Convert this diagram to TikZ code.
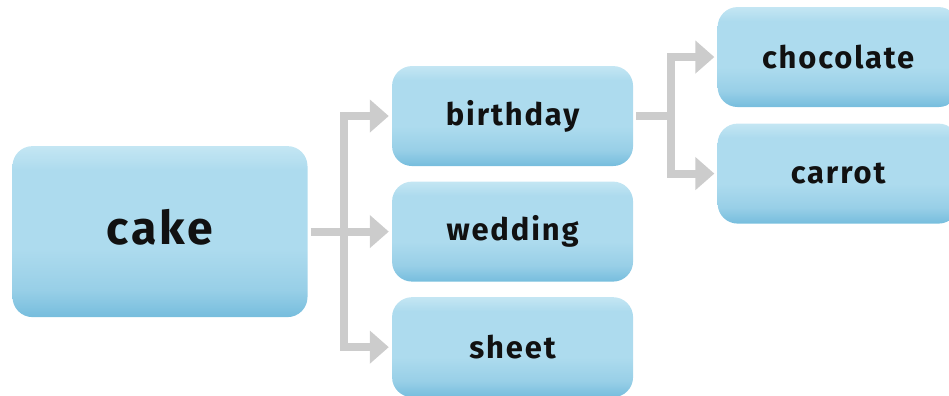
\documentclass[tikz,border=0pt]{standalone}
\usepackage{fontspec}
\setmainfont{Fira Sans}[LetterSpace=6]
\usetikzlibrary{positioning,arrows.meta}

\definecolor{boxtop}{HTML}{C4E6F3}
\definecolor{boxmid}{HTML}{ADDBEE}
\definecolor{boxlow}{HTML}{98CFE7}
\definecolor{boxbot}{HTML}{76BDDD}
\definecolor{linkgray}{HTML}{CCCCCC}
\definecolor{labtext}{HTML}{111111}
\pgfdeclareverticalshading{boxshade}{100bp}{color(0bp)=(boxbot); color(25bp)=(boxbot); color(33bp)=(boxlow); color(45bp)=(boxmid); color(68bp)=(boxmid); color(75bp)=(boxtop); color(100bp)=(boxtop)}

\begin{document}
\begin{tikzpicture}[box/.style={rounded corners=0.5cm, shading=boxshade, minimum width=6.025cm, minimum height=2.5cm, inner sep=0, text=labtext, font=\bfseries\fontsize{22}{25}\selectfont},
link/.style={draw=linkgray, line width=0.2cm, -{Triangle[length=0.475cm,width=0.8cm]}, shorten <=0.075cm, shorten >=0.075cm}]
	\useasboundingbox (0,0) rectangle (23.725,-9.9);
	\node[box, minimum width=7.375cm, minimum height=4.275cm, text depth=0.25cm, font=\bfseries\fontsize{33}{36}\selectfont] at (4,-5.79) (cake) {cake};
	\node[box, right=2.1cm of cake] (wedding) {wedding};
	\node[box, above=0.375cm of wedding] (birthday) {birthday};
	\node[box, below=0.375cm of wedding] (sheet) {sheet};
	\node[box, right=2.1cm of birthday, yshift=1.475cm] (chocolate) {chocolate};
	\node[box, below=0.4cm of chocolate] (carrot) {carrot};
	\coordinate (j1) at ([xshift=0.9cm]cake.east);
	\coordinate (j2) at ([xshift=0.95cm]birthday.east);
	\draw[link] (cake.east) -- (j1) |- (birthday.west);
	\draw[link] (cake.east) -- (j1) |- (wedding.west);
	\draw[link] (cake.east) -- (j1) |- (sheet.west);
	\draw[link] (birthday.east) -- (j2) |- (chocolate.west);
	\draw[link] (birthday.east) -- (j2) |- (carrot.west);
\end{tikzpicture}
\end{document}
